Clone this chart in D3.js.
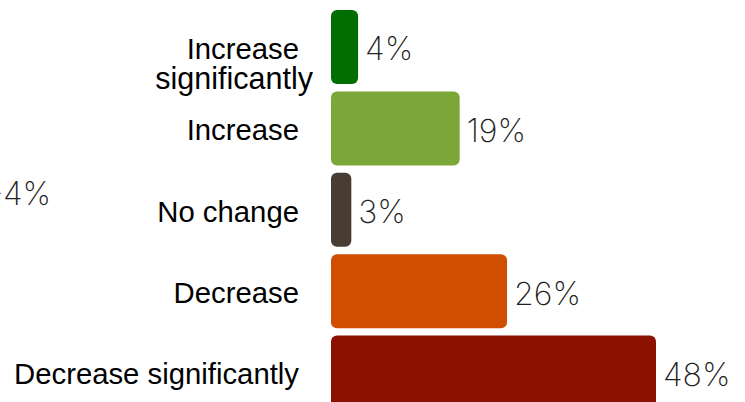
<!DOCTYPE html>
<html>
<head>
<meta charset="utf-8">
<script src="https://cdn.jsdelivr.net/npm/d3@7"></script>
<style>
html,body{margin:0;padding:0;background:#fff;overflow:hidden;}
svg{display:block;}
</style>
</head>
<body>
<svg id="chart" width="745" height="402"></svg>
<script>
const categories = ["Increase significantly", "Increase", "No change", "Decrease", "Decrease significantly"];
const labelLines = [["Increase", "significantly"], ["Increase"], ["No change"], ["Decrease"], ["Decrease significantly"]];
const values = [4, 19, 3, 26, 48];
const colors = ["#006e00", "#7ba638", "#483c33", "#cf4e00", "#8c1100"];
const netLabel = "-4%";

const svg = d3.select("#chart");
const x = d3.scaleLinear().domain([0, d3.max(values)]).range([331, 656]);
const step = 81.4, pad = 0.09;
const y = d3.scaleBand().domain(categories).range([10, 10 + step * (categories.length - pad)]).paddingInner(pad).paddingOuter(0);

svg.selectAll("rect.bar").data(values).join("rect")
  .attr("class", "bar")
  .attr("x", x(0))
  .attr("y", (d, i) => y(categories[i]))
  .attr("width", d => x(d) - x(0))
  .attr("height", y.bandwidth())
  .attr("rx", 6).attr("ry", 6)
  .attr("fill", (d, i) => colors[i]);

const valFont = "Inter, Lato, Roboto, sans-serif";

svg.selectAll("text.val").data(values).join("text")
  .attr("class", "val")
  .attr("x", d => x(d) + 7)
  .attr("y", (d, i) => y(categories[i]) + y.bandwidth() / 2)
  .attr("dy", "0.42em")
  .attr("font-family", valFont)
  .attr("font-weight", 200)
  .attr("font-size", 32)
  .attr("fill", "#222")
  .text(d => d + "%");

const lab = svg.selectAll("text.cat").data(categories).join("text")
  .attr("class", "cat")
  .attr("font-family", "'Liberation Sans', Arial, Helvetica, sans-serif")
  .attr("font-size", 29.3)
  .attr("fill", "#000")
  .attr("text-anchor", "end");

lab.each(function(c, i) {
  const lines = labelLines[i];
  const cy = y(c) + y.bandwidth() / 2;
  const lh = 29.5;
  const t = d3.select(this);
  lines.forEach((ln, j) => {
    const ts = t.append("tspan")
      .attr("x", lines.length > 1 && j === 0 ? 299 : (lines.length > 1 ? 313 : 299))
      .attr("y", cy + j * lh)
      .attr("dy", "0.4em")
      .text(ln);
    if (lines.length > 1 && j === 1) ts.attr("font-size", 30.5);
  });
});

svg.append("text")
  .attr("x", 51).attr("y", 205)
  .attr("text-anchor", "end")
  .attr("font-family", valFont)
  .attr("font-weight", 200)
  .attr("font-size", 32)
  .attr("fill", "#222")
  .text(netLabel);
</script>
</body>
</html>
